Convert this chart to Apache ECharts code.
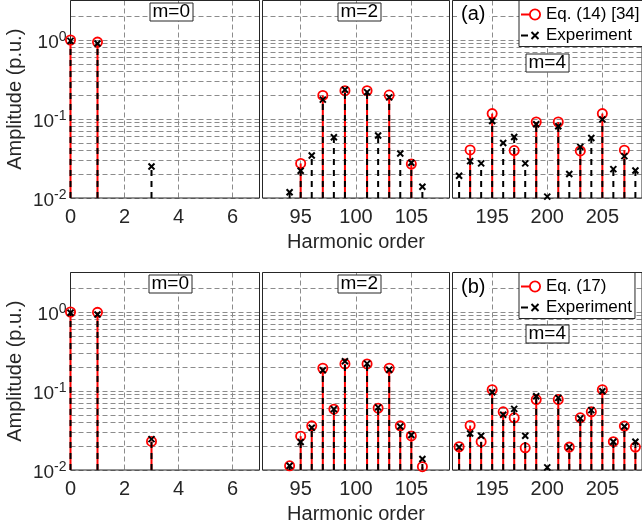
<!DOCTYPE html>
<html><head><meta charset="utf-8">
<script src="https://cdn.jsdelivr.net/npm/echarts@6/dist/echarts.min.js"></script>
<style>html,body{margin:0;padding:0;background:#fff}#c{width:642px;height:531px}</style>
</head><body><div id="c"></div>
<script>
// ---------- tick labels ----------
const xTicksM0 = [0, 2, 4, 6];
const xTicksM2 = [95, 100, 105];
const xTicksM4 = [195, 200, 205];
const yMinorGrid = [0.02,0.03,0.04,0.05,0.06,0.07,0.08,0.09,0.2,0.3,0.4,0.5,0.6,0.7,0.8,0.9,2];

// ---------- (a) Eq. (14) [34] vs experiment ----------
const aEqM0H = [0, 1];
const aEqM0V = [1.0, 0.94];
const aExpM0H = [0, 1, 3];
const aExpM0V = [0.975, 0.905, 0.025];
const aEqM2H = [95, 97, 99, 101, 103, 105];
const aEqM2V = [0.0274, 0.199, 0.228, 0.228, 0.201, 0.0269];
const aExpM2H = [94, 95, 96, 97, 98, 99, 101, 102, 103, 104, 105, 106];
const aExpM2V = [0.0118, 0.0221, 0.0345, 0.176, 0.0588, 0.235, 0.219, 0.0617, 0.188, 0.0366, 0.0279, 0.0139];
const aEqM4H = [193, 195, 197, 199, 201, 203, 205, 207];
const aEqM4V = [0.0406, 0.117, 0.0399, 0.0916, 0.0916, 0.0394, 0.117, 0.0403];
const aExpM4H = [192, 193, 194, 195, 196, 197, 198, 199, 200, 201, 202, 203, 204, 205, 206, 207, 208];
const aExpM4V = [0.0191, 0.0293, 0.0274, 0.0944, 0.0498, 0.0593, 0.0274, 0.0857, 0.0104, 0.081, 0.0201, 0.0444, 0.0575, 0.099, 0.0232, 0.0339, 0.0223];

// ---------- (b) Eq. (17) vs experiment ----------
const bEqM0H = [0, 1, 3];
const bEqM0V = [1.0, 0.99, 0.023];
const bExpM0H = [0, 1, 3];
const bExpM0V = [0.98, 0.93, 0.0246];
const bEqM2H = [94, 95, 96, 97, 98, 99, 101, 102, 103, 104, 105, 106];
const bEqM2V = [0.0113, 0.0268, 0.0362, 0.194, 0.0589, 0.22, 0.22, 0.0607, 0.194, 0.0362, 0.027, 0.011];
const bExpM2H = [94, 95, 96, 97, 98, 99, 101, 102, 103, 104, 105, 106];
const bExpM2V = [0.0113, 0.0226, 0.0343, 0.183, 0.0589, 0.238, 0.222, 0.062, 0.186, 0.0355, 0.0277, 0.0138];
const bEqM4H = [192, 193, 194, 195, 196, 197, 198, 199, 201, 202, 203, 204, 205, 206, 207, 208];
const bEqM4V = [0.0197, 0.0366, 0.0228, 0.104, 0.0545, 0.0458, 0.0191, 0.078, 0.078, 0.0195, 0.0458, 0.0545, 0.104, 0.0228, 0.036, 0.0195];
const bExpM4H = [192, 193, 194, 195, 196, 197, 198, 199, 200, 201, 202, 203, 204, 205, 206, 207, 208];
const bExpM4V = [0.0195, 0.029, 0.0271, 0.0966, 0.05, 0.0594, 0.0271, 0.0859, 0.0108, 0.0818, 0.0195, 0.045, 0.0573, 0.0993, 0.0228, 0.0355, 0.0228];

const nameEqA = 'Eq. (14) [34]';
const nameEqB = 'Eq. (17)';
const nameExp = 'Experiment';

// ---------- styling ----------
const FONT = "'Liberation Sans', Arial, sans-serif";
const TXT = '#262626';
const GRIDC = '#8c8c8c';
const DASH = [5, 3];
const RED = '#ff0000';
const Y_MIN = 0.01, Y_MAX = 3.1623;

const rows = [{ top: 0.5, height: 197.5 }, { top: 272.5, height: 197.5 }];
const cols = [
  { left: 70.5, width: 189, min: 0, max: 7, ticks: xTicksM0 },
  { left: 262.5, width: 187, min: 91.55, max: 108.45, ticks: xTicksM2 },
  { left: 452.5, width: 190, min: 191.4, max: 208.6, ticks: xTicksM4 }
];

function renderEq(params, api) {
  const x = api.value(0), y = api.value(1);
  const p = api.coord([x, y]);
  const b = api.coord([x, Y_MIN]);
  return { type: 'group', children: [
    { type: 'line', shape: { x1: p[0], y1: b[1], x2: p[0], y2: p[1] }, style: { stroke: RED, lineWidth: 2 } },
    { type: 'circle', shape: { cx: p[0], cy: p[1], r: 4.6 }, style: { stroke: RED, fill: 'none', lineWidth: 1.8 } }
  ]};
}
function renderExp(params, api) {
  const x = api.value(0), y = api.value(1);
  const p = api.coord([x, y]);
  const b = api.coord([x, Y_MIN]);
  const s = 3;
  return { type: 'group', children: [
    { type: 'line', shape: { x1: p[0], y1: b[1], x2: p[0], y2: p[1] }, style: { stroke: '#000', lineWidth: 2, lineDash: [6, 5] } },
    { type: 'line', shape: { x1: p[0]-s, y1: p[1]-s, x2: p[0]+s, y2: p[1]+s }, style: { stroke: '#000', lineWidth: 2 } },
    { type: 'line', shape: { x1: p[0]-s, y1: p[1]+s, x2: p[0]+s, y2: p[1]-s }, style: { stroke: '#000', lineWidth: 2 } }
  ]};
}

const grids = [], xAxes = [], yAxes = [], series = [];
rows.forEach((r, ri) => {
  cols.forEach((c, ci) => {
    const gi = ri * 3 + ci;
    grids.push({ left: c.left, top: r.top, width: c.width, height: r.height, show: true, z: 3,
      borderColor: TXT, borderWidth: 1, backgroundColor: 'transparent', containLabel: false });
    xAxes.push({
      type: 'value', gridIndex: gi, min: c.min, max: c.max,
      axisLine: { show: false }, axisTick: { show: false, customValues: c.ticks },
      splitLine: { show: true, lineStyle: { color: GRIDC, type: DASH, width: 1 } },
      axisLabel: { customValues: c.ticks, fontSize: 20, color: TXT, fontFamily: FONT, margin: 9 },
      name: ci === 1 ? 'Harmonic order' : '', nameLocation: 'middle', nameGap: 34,
      nameTextStyle: { fontSize: 20, color: TXT, fontFamily: FONT }
    });
    yAxes.push({
      type: 'log', logBase: 10, gridIndex: gi, min: Y_MIN, max: Y_MAX,
      axisLine: { show: false }, axisTick: { show: false },
      splitLine: { show: true, lineStyle: { color: GRIDC, type: DASH, width: 1 } },
      minorSplitLine: { show: false },
      axisLabel: {
        show: ci === 0, showMaxLabel: false, margin: 4, fontSize: 19, color: TXT, fontFamily: FONT,
        lineHeight: 26, padding: [6, 0, 0, 0],
        formatter: function (v) {
          const l = Math.log10(v), e = Math.round(l);
          if (Math.abs(l - e) > 1e-6) return '';
          return '10{sup|' + e + '}';
        },
        rich: { sup: { fontSize: 14, lineHeight: 14, verticalAlign: 'top', color: TXT, fontFamily: FONT } }
      },
      name: ci === 0 ? 'Amplitude (p.u.)' : '', nameLocation: 'middle', nameGap: 45,
      nameTextStyle: { fontSize: 20, color: TXT, fontFamily: FONT }
    });
    // minor grid lines (log decades) through the y scale
    series.push({
      type: 'line', name: 'grid' + gi, xAxisIndex: gi, yAxisIndex: gi, data: [], silent: true, animation: false,
      markLine: { silent: true, z: 1, symbol: ['none', 'none'], animation: false, label: { show: false },
        lineStyle: { color: GRIDC, type: DASH, width: 1 }, emphasis: { disabled: true },
        data: yMinorGrid.map(v => ({ yAxis: v })) }
    });
  });
});

function addStems(gi, H, V, name, isEq) {
  series.push({
    type: 'custom', name: name, xAxisIndex: gi, yAxisIndex: gi, z: isEq ? 8 : 9,
    animation: false, clip: false, encode: { x: 0, y: 1 },
    itemStyle: { color: isEq ? RED : '#000' },
    data: H.map((h, i) => [h, V[i]]),
    renderItem: isEq ? renderEq : renderExp
  });
}
addStems(0, aEqM0H, aEqM0V, nameEqA, true);
addStems(0, aExpM0H, aExpM0V, nameExp, false);
addStems(1, aEqM2H, aEqM2V, nameEqA, true);
addStems(1, aExpM2H, aExpM2V, nameExp, false);
addStems(2, aEqM4H, aEqM4V, nameEqA, true);
addStems(2, aExpM4H, aExpM4V, nameExp, false);
addStems(3, bEqM0H, bEqM0V, nameEqB, true);
addStems(3, bExpM0H, bExpM0V, nameExp, false);
addStems(4, bEqM2H, bEqM2V, nameEqB, true);
addStems(4, bExpM2H, bExpM2V, nameExp, false);
addStems(5, bEqM4H, bEqM4V, nameEqB, true);
addStems(5, bExpM4H, bExpM4V, nameExp, false);

const anchor = 'M0 0 L0.01 0 L0 0.01 Z M20 12 L19.99 12 L20 11.99 Z ';
const iconEq = 'path://' + anchor + 'M0 5 L8.2 5 L8.2 7 L0 7 Z M20 6 A6 6 0 1 1 8 6 A6 6 0 1 1 20 6 Z M18.2 6 A4.2 4.2 0 1 0 9.8 6 A4.2 4.2 0 1 0 18.2 6 Z';
const iconExp = 'path://' + anchor + 'M0 5 L7 5 L7 7 L0 7 Z M11.2 1.8 L18.2 8.8 L16.8 10.2 L9.8 3.2 Z M9.8 8.8 L16.8 1.8 L18.2 3.2 L11.2 10.2 Z';

function legendFor(top, eqName) {
  return {
    left: 519, top: top, orient: 'vertical', itemGap: 1, itemWidth: 20, itemHeight: 12, itemTextGap: 2,
    padding: [4, 3, 1, 2], backgroundColor: '#fff', borderColor: TXT, borderWidth: 1, borderRadius: 0,
    selectedMode: false, z: 6,
    textStyle: { fontSize: 17, color: '#000', fontFamily: FONT, lineHeight: 20 },
    data: [
      { name: eqName, icon: iconEq, itemStyle: { color: RED, borderWidth: 0 } },
      { name: nameExp, icon: iconExp, itemStyle: { color: '#000', borderWidth: 0 } }
    ]
  };
}

function boxLabel(text, left, top) {
  return { text: text, left: left, top: top, padding: [0, 3], borderWidth: 1, borderColor: TXT,
    backgroundColor: '#fff', borderRadius: 0, z: 7,
    textStyle: { fontSize: 19, fontWeight: 'normal', color: '#000', fontFamily: FONT, lineHeight: 17 } };
}
function tagLabel(text, left, top) {
  return { text: text, left: left, top: top, padding: [0, 4], backgroundColor: '#fff', z: 7,
    textStyle: { fontSize: 20, fontWeight: 'normal', color: '#000', fontFamily: FONT, lineHeight: 22 } };
}

const option = {
  backgroundColor: '#fff',
  animation: false,
  grid: grids, xAxis: xAxes, yAxis: yAxes, series: series,
  legend: [legendFor(0.5, nameEqA), legendFor(272.5, nameEqB)],
  title: [
    boxLabel('m=0', 149.5, 3.5), boxLabel('m=2', 337.5, 3.5), boxLabel('m=4', 525.5, 54.5),
    boxLabel('m=0', 148.5, 275.5), boxLabel('m=2', 337.5, 275.5), boxLabel('m=4', 525.5, 325.5),
    tagLabel('(a)', 457, 3), tagLabel('(b)', 457, 276)
  ]
};
const chart = echarts.init(document.getElementById('c'));
chart.setOption(option);
</script></body></html>
